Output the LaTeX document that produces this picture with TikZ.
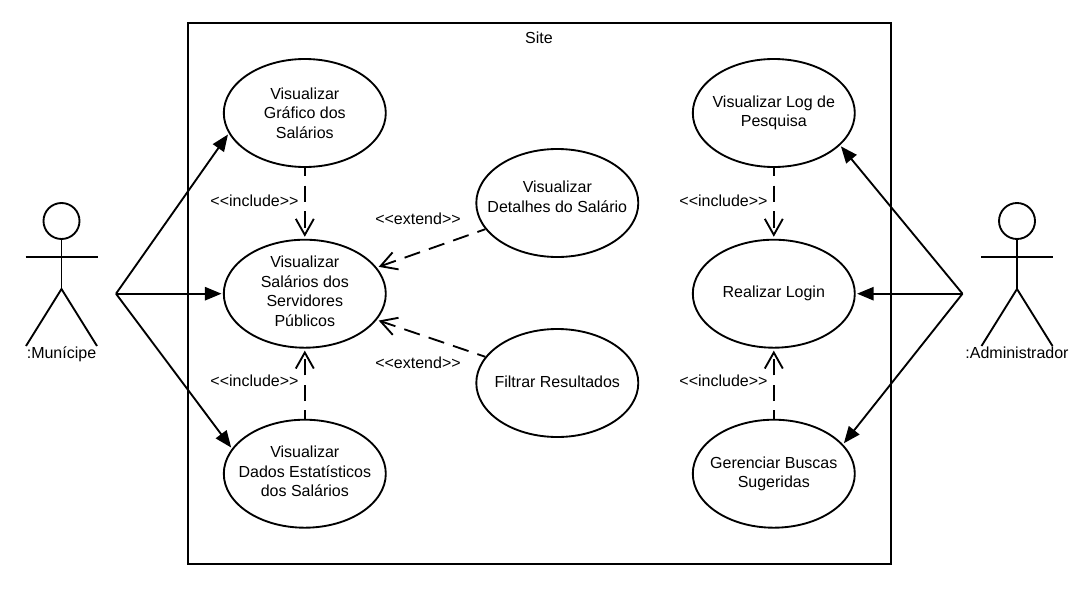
\documentclass[tikz,border=0pt]{standalone}
\usepackage{fontspec}
\setmainfont{Liberation Sans}
\usetikzlibrary{arrows.meta, shapes.geometric}
\newcommand{\lift}[1]{\rule[-#1]{0pt}{0pt}}
\tikzset{
	usecase/.style={draw, ellipse, line width=1.4pt, minimum width=121.5pt, minimum height=81pt, inner sep=-25pt, align=center, font=\fontsize{12}{14.6}\selectfont},
	lbl/.style={inner sep=0pt, font=\fontsize{12}{14.4}\selectfont},
	assoc/.style={line width=1.4pt, shorten >=1pt, -{Triangle[length=12.5pt,width=10pt]}},
	dep/.style={line width=1.4pt, dash pattern=on 12.3pt off 7pt, dash phase=6pt, shorten >=1.5pt, -{Straight Barb[length=12pt,width=13.5pt,line width=1.4pt]}},
	limb/.style={line width=1.4pt},
	head/.style={draw, circle, line width=1.4pt, minimum size=27pt, inner sep=0pt}
}
\begin{document}
\begin{tikzpicture}[x=.75pt, y=-.75pt]
	\useasboundingbox (0,0) rectangle (1092,596);

	\node[draw, line width=1.4pt, minimum width=527.25pt, minimum height=405.75pt, inner sep=0pt] (site) at (539.5,293.5) {};
	\node[lbl] (sitename) at (539,38) {Site};

	\node[head] (munhead) at (61.5,221) {};
	\coordinate (munhip) at (61.5,289);
	\coordinate (munarml) at (25.5,257);
	\coordinate (munarmr) at (97.5,257);
	\coordinate (munlegl) at (26,346);
	\coordinate (munlegr) at (97,346);
	\draw[limb] (munhead) -- (munhip);
	\draw[limb] (munarml) -- (munarmr);
	\draw[limb] (munlegl) -- (munhip) -- (munlegr);
	\node[lbl] (munlabel) at (61.5,354) {:Munícipe};
	\coordinate (munpt) at (116,293.7);

	\node[head] (admhead) at (1017,221) {};
	\coordinate (admhip) at (1017,289);
	\coordinate (admarml) at (981,257);
	\coordinate (admarmr) at (1053,257);
	\coordinate (admlegl) at (981.5,346);
	\coordinate (admlegr) at (1052.5,346);
	\draw[limb] (admhead) -- (admhip);
	\draw[limb] (admarml) -- (admarmr);
	\draw[limb] (admlegl) -- (admhip) -- (admlegr);
	\node[lbl] (admlabel) at (1017,353) {:Administrador};
	\coordinate (admpt) at (962.5,293.7);

	\node[usecase] (grafico) at (304.8,113) {Visualizar\\Gráfico dos\\Salários};
	\node[usecase] (salarios) at (304.8,293.7) {Visualizar\\Salários dos\\Servidores\\Públicos\lift{3.75pt}};
	\node[usecase] (dados) at (304.8,473.7) {Visualizar\\Dados Estatísticos\\dos Salários\lift{3.75pt}};
	\node[usecase] (detalhes) at (557.3,203) {Visualizar\\Detalhes do Salário\lift{9.5pt}};
	\node[usecase] (filtrar) at (557.3,383) {Filtrar Resultados\lift{2pt}};
	\node[usecase] (log) at (773.8,113) {Visualizar Log de\\Pesquisa};
	\node[usecase] (login) at (773.8,293.7) {Realizar Login};
	\node[usecase] (buscas) at (773.8,473.7) {Gerenciar Buscas\\Sugeridas};

	\draw[assoc] (munpt) -- (grafico.195);
	\draw[assoc] (munpt) -- (salarios.west);
	\draw[assoc] (munpt) -- (dados.161);
	\draw[assoc] (admpt) -- (log.-26);
	\draw[assoc] (admpt) -- (login.east);
	\draw[assoc] (admpt) -- (buscas.23);

	\draw[dep] (grafico.south) -- (salarios.north);
	\draw[dep] (dados.north) -- (salarios.south);
	\draw[dep] (detalhes.200) -- (salarios.20);
	\draw[dep] (filtrar.160) -- (salarios.-20);
	\draw[dep] (log.south) -- (login.north);
	\draw[dep] (buscas.north) -- (login.south);

	\node[lbl] (inc1) at (254.5,200.5) {<{}<include>{}>};
	\node[lbl] (inc2) at (254.5,380.5) {<{}<include>{}>};
	\node[lbl] (ext1) at (418,219) {<{}<extend>{}>};
	\node[lbl] (ext2) at (418,362.5) {<{}<extend>{}>};
	\node[lbl] (inc3) at (723.5,200.5) {<{}<include>{}>};
	\node[lbl] (inc4) at (723.5,380.5) {<{}<include>{}>};
\end{tikzpicture}
\end{document}
